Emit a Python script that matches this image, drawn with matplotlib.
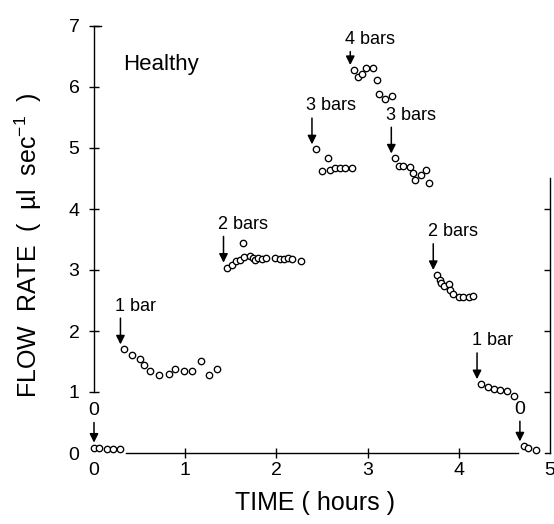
import matplotlib.pyplot as plt

plt.rcParams['font.family'] = ['Liberation Sans', 'DejaVu Sans']
plt.rcParams['mathtext.fontset'] = 'custom'
plt.rcParams['mathtext.rm'] = 'Liberation Sans'
plt.rcParams['mathtext.default'] = 'regular'

# time (hours) / flow rate (ul/sec), one pair per pressure step
t_0a = [0.0, 0.06, 0.14, 0.21, 0.29]
q_0a = [0.09, 0.08, 0.06, 0.06, 0.06]
t_1a = [0.33, 0.42, 0.50, 0.55, 0.61, 0.71, 0.82, 0.89, 0.99, 1.08, 1.17, 1.26, 1.35]
q_1a = [1.70, 1.61, 1.54, 1.44, 1.34, 1.28, 1.29, 1.38, 1.34, 1.34, 1.51, 1.28, 1.37]
t_2a = [1.46, 1.51, 1.56, 1.60, 1.63, 1.65, 1.71, 1.74, 1.76, 1.80, 1.84, 1.89,
        1.99, 2.04, 2.08, 2.13, 2.17, 2.27]
q_2a = [3.04, 3.09, 3.14, 3.17, 3.45, 3.22, 3.23, 3.19, 3.16, 3.19, 3.18, 3.19,
        3.19, 3.18, 3.18, 3.19, 3.18, 3.15]
t_3a = [2.43, 2.50, 2.57, 2.59, 2.64, 2.70, 2.75, 2.83]
q_3a = [4.98, 4.62, 4.83, 4.64, 4.68, 4.68, 4.67, 4.67]
t_4 = [2.85, 2.89, 2.94, 2.98, 3.06, 3.10, 3.13, 3.19, 3.27]
q_4 = [6.28, 6.16, 6.21, 6.31, 6.31, 6.11, 5.89, 5.81, 5.85]
t_3b = [3.30, 3.34, 3.39, 3.47, 3.50, 3.52, 3.59, 3.64, 3.67]
q_3b = [4.83, 4.70, 4.70, 4.69, 4.59, 4.48, 4.56, 4.64, 4.42]
t_2b = [3.76, 3.79, 3.81, 3.84, 3.89, 3.90, 3.94, 4.00, 4.05, 4.11, 4.16]
q_2b = [2.92, 2.84, 2.78, 2.73, 2.77, 2.68, 2.60, 2.56, 2.56, 2.56, 2.57]
t_1b = [4.24, 4.32, 4.39, 4.45, 4.53, 4.61]
q_1b = [1.13, 1.08, 1.05, 1.04, 1.01, 0.94]
t_0b = [4.71, 4.76, 4.85]
q_0b = [0.11, 0.08, 0.05]

step_labels = ['0', '1 bar', '2 bars', '3 bars', '4 bars', '3 bars', '2 bars', '1 bar', '0']
steps = [(t_0a, q_0a), (t_1a, q_1a), (t_2a, q_2a), (t_3a, q_3a), (t_4, q_4),
         (t_3b, q_3b), (t_2b, q_2b), (t_1b, q_1b), (t_0b, q_0b)]

fig = plt.figure(figsize=(5.54, 5.24), dpi=100)
ax = fig.add_axes([94 / 554, 71 / 524, 456 / 554, 427 / 524])

for (t, q), lab in zip(steps, step_labels):
    ax.plot(t, q, 'o', ms=4.6, mfc='white', mec='black', mew=0.95, clip_on=False)
    # arrow sits just left of / above the first point of each step
    ax_x = max(t[0] - 0.04, 0)
    tip = q[0] + 0.08
    tail = tip + (0.22 if lab == '4 bars' else 0.33 if lab == '0' else 0.43)
    ax.annotate('', xy=(ax_x, tip), xytext=(ax_x, tail), annotation_clip=False,
                arrowprops=dict(arrowstyle='-|>', lw=1.1, color='black',
                                mutation_scale=13, shrinkA=0, shrinkB=0))
    if lab == '0':
        ax.text(ax_x, tail + 0.05, lab, ha='center', va='bottom', fontsize=14)
    else:
        ax.text(ax_x - 0.06, tail + 0.06, lab, ha='left', va='bottom', fontsize=13)

ax.text(0.32, 6.28, 'Healthy', fontsize=16, ha='left', va='baseline')

ax.set_xlim(0, 5)
ax.set_ylim(0, 7)
ax.set_xticks([0, 1, 2, 3, 4, 5])
ax.set_yticks([0, 1, 2, 3, 4, 5, 6, 7])
ax.tick_params(direction='inout', length=7, width=1.0, labelsize=14)
ax.tick_params(axis='y', pad=7)
ax.tick_params(axis='x', pad=3)
# no tick marks where the axis lines stop
for tk in (ax.xaxis.get_major_ticks()[0], ax.xaxis.get_major_ticks()[-1],
           ax.yaxis.get_major_ticks()[0]):
    tk.tick1line.set_visible(False)

ax.spines['top'].set_visible(False)
ax.spines['right'].set_visible(False)
ax.spines['left'].set_bounds(1, 7)
ax.spines['bottom'].set_bounds(0.35, 4.65)
for s in ('left', 'bottom'):
    ax.spines[s].set_linewidth(1.0)

# small corner bits at the ends of the frame
ax.plot([0, 0.08], [7, 7], color='black', lw=1.0, clip_on=False)
ax.plot([4.94, 5], [0, 0], color='black', lw=1.0, clip_on=False)

sec = ax.secondary_yaxis('right')
sec.set_yticks([1, 2, 3, 4])
sec.tick_params(direction='in', length=4, width=1.0, labelright=False)
sec.spines['right'].set_bounds(0, 4.5)
sec.spines['right'].set_linewidth(1.0)

ax.text(0.484, -0.117, 'TIME ( hours )', transform=ax.transAxes,
        ha='center', va='center', fontsize=18)
ax.text(-0.145, 0.487, r'FLOW  RATE  (  µl  sec$^{-1}$  )', transform=ax.transAxes,
        ha='center', va='center', rotation=90, fontsize=18)

fig.savefig('out.png', dpi=100)
